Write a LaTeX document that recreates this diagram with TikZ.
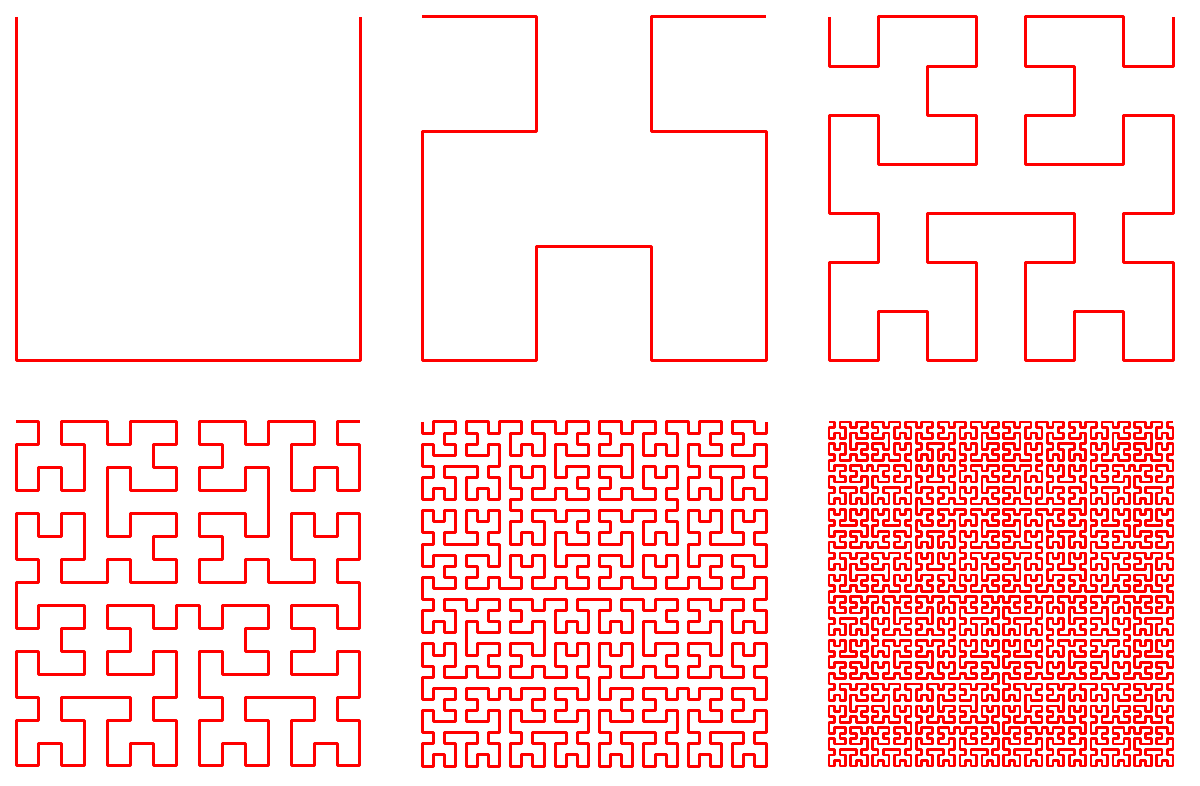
\documentclass[tikz,border=0pt]{standalone}
\usetikzlibrary{lindenmayersystems}
\pgfdeclarelindenmayersystem{Hilbert}{
  \rule{L -> -RF+LFL+FR-}
  \rule{R -> +LF-RFR-FL+}
}
\tikzset{hilb/.style={draw=red, line width=3pt, line join=round}}
\begin{document}
\begin{tikzpicture}[x=1pt,y=1pt]
\fill[white] (0,0) rectangle (1200,785);
\useasboundingbox (0,0) rectangle (1200,785);
\begin{scope}[shift={(16,768)}]
\draw[hilb, lindenmayer system={Hilbert, axiom=L, order=1, step=344pt, angle=90}] (0,0) lindenmayer system;
\end{scope}
\begin{scope}[shift={(422,768)}]
\draw[hilb, lindenmayer system={Hilbert, axiom=L, order=2, step=114.667pt, angle=90}] (0,0) lindenmayer system;
\end{scope}
\begin{scope}[shift={(829,768)}]
\draw[hilb, lindenmayer system={Hilbert, axiom=L, order=3, step=49.143pt, angle=90}] (0,0) lindenmayer system;
\end{scope}
\begin{scope}[shift={(16,363)}]
\draw[hilb, lindenmayer system={Hilbert, axiom=L, order=4, step=22.933pt, angle=90}] (0,0) lindenmayer system;
\end{scope}
\begin{scope}[shift={(422,363)}]
\draw[hilb, lindenmayer system={Hilbert, axiom=L, order=5, step=11.097pt, angle=90}] (0,0) lindenmayer system;
\end{scope}
\begin{scope}[shift={(829,363)}]
\draw[hilb, line width=2.7pt, lindenmayer system={Hilbert, axiom=L, order=6, step=5.460pt, angle=90}] (0,0) lindenmayer system;
\end{scope}
\end{tikzpicture}
\end{document}
